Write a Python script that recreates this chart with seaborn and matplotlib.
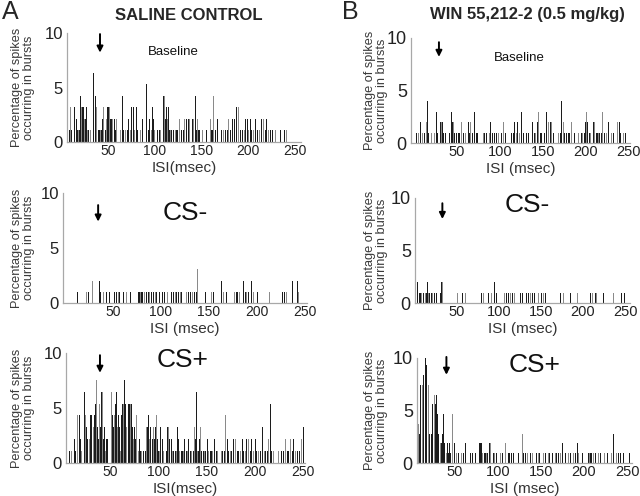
import matplotlib
matplotlib.use('Agg')
import matplotlib.pyplot as plt
import seaborn as sns

sns.set_style('white')
plt.rcParams['font.family'] = ['Liberation Sans', 'DejaVu Sans']

# (ISI ms, spikes in bin)
sal_base = [(9,1),(10,3),(11,1),(14,3),(15,1),(17,2),(18,1),(19,1),(20,1),(21,4),(22,3),(23,3),(24,3),(25,2),
            (26,2),(27,3),(28,1),(29,1),(31,1),(32,1),(35,6),(37,4),(38,3),(40,1),(41,1),(42,1),(43,1),(44,2),
            (45,3),(47,1),(48,1),(49,2),(50,3),(51,3),(52,3),(53,2),(54,2),(55,2),(57,2),(58,1),(59,2),(61,3),
            (62,2),(64,1),(66,4),(67,1),(69,1),(71,1),(72,2),(74,1),(75,3),(78,3),(79,1),(81,3),(82,1),(85,1),
            (87,2),(91,5),(92,1),(94,1),(95,2),(97,1),(98,3),(99,2),(100,1),(103,1),(105,1),(106,1),(108,2),
            (110,4),(111,4),(112,2),(113,3),(114,2),(115,3),(116,1),(117,1),(118,1),(120,1),(122,1),(124,1),
            (125,1),(127,2),(129,1),(131,1),(132,2),(134,2),(136,2),(137,2),(139,1),(141,2),(142,2),(144,4),
            (145,1),(146,2),(147,1),(148,1),(151,1),(154,1),(156,1),(160,2),(161,1),(162,1),(163,4),(165,1),
            (167,2),(169,1),(170,1),(172,1),(174,1),(176,1),(178,1),(179,2),(181,1),(183,2),(184,1),(186,2),
            (188,3),(190,3),(192,1),(194,1),(196,1),(197,2),(199,2),(201,1),(203,2),(204,1),(206,1),(208,2),
            (210,1),(212,1),(214,2),(216,3),(217,2),(219,1),(220,2),(222,1),(224,1),(226,1),(229,1),(235,1),
            (239,1),(241,1)]

sal_csm = [(13,1),(22,1),(24,1),(26,1),(29,2),(36,2),(37,1),(40,1),(43,1),(46,1),(51,1),(52,1),(54,1),(56,1),
           (57,1),(61,1),(64,1),(68,1),(75,1),(76,1),(77,1),(78,1),(79,1),(80,1),(81,1),(83,1),(85,1),(87,1),
           (88,1),(90,1),(92,1),(94,1),(95,1),(98,1),(101,1),(102,1),(104,1),(107,1),(111,1),(113,1),(115,1),
           (116,1),(118,1),(120,1),(121,1),(125,2),(127,1),(129,1),(131,1),(133,1),(135,1),(137,1),(138,3),
           (146,1),(149,1),(153,1),(155,1),(163,2),(165,1),(168,1),(174,2),(177,1),(179,1),(180,1),(182,1),
           (186,2),(188,1),(189,1),(191,1),(194,2),(196,1),(199,1),(201,1),(213,1),(227,1),(229,1),(231,1),
           (237,2),(242,2),(243,1)]

sal_csp = [(8,1),(10,1),(13,2),(14,1),(16,4),(18,4),(19,2),(20,1),(22,2),(24,6),(25,4),(26,3),(27,2),(29,2),
           (30,4),(31,4),(33,3),(34,4),(35,5),(36,7),(37,3),(38,2),(39,5),(40,3),(41,6),(42,6),(43,2),(44,3),
           (45,1),(46,2),(47,2),(49,4),(50,5),(51,6),(52,6),(53,4),(54,3),(55,4),(56,5),(57,6),(58,3),(59,4),
           (60,3),(61,1),(62,4),(63,5),(64,5),(65,7),(66,5),(67,3),(69,5),(70,5),(71,5),(72,5),(73,3),(74,2),
           (75,3),(76,2),(77,4),(78,2),(79,2),(80,1),(81,2),(82,1),(83,1),(85,1),(87,1),(88,3),(89,3),(90,4),
           (91,2),(92,3),(94,2),(95,3),(96,2),(97,3),(98,4),(99,2),(100,1),(101,1),(102,3),(104,2),(105,1),
           (106,2),(107,4),(108,2),(109,1),(110,3),(111,3),(112,2),(114,2),(115,1),(116,1),(118,1),(119,1),
           (120,3),(121,2),(122,1),(124,1),(125,1),(126,1),(127,2),(129,1),(130,1),(131,2),(133,1),(134,1),
           (136,2),(137,1),(138,3),(139,2),(140,6),(141,1),(142,1),(143,2),(144,3),(145,1),(147,1),(148,1),
           (149,1),(151,2),(152,1),(154,1),(155,1),(156,1),(158,2),(160,1),(161,1),(163,1),(165,2),(166,1),
           (167,1),(169,1),(170,4),(172,2),(173,1),(175,1),(176,1),(178,2),(180,2),(182,1),(183,1),(185,1),
           (187,2),(188,1),(190,1),(191,2),(193,1),(194,2),(196,1),(197,2),(199,1),(201,2),(202,1),(204,1),
           (206,1),(208,3),(210,1),(211,1),(213,1),(214,2),(216,5),(217,1),(219,1),(220,2),(221,1),(225,1),
           (228,1),(230,1),(232,2),(234,1),(235,1),(237,2),(239,1),(240,2),(242,1),(244,1),(246,1),(248,2),
           (249,1),(251,3)]

win_base = [(3,1),(5,1),(7,2),(8,2),(10,1),(12,1),(14,1),(15,2),(16,4),(17,1),(20,1),(21,1),(22,2),(24,1),
            (26,3),(27,1),(28,1),(29,2),(31,2),(32,2),(33,2),(34,1),(36,1),(37,1),(41,1),(43,1),(44,3),(45,2),
            (46,2),(47,1),(49,1),(50,1),(52,1),(53,1),(55,2),(57,1),(58,1),(60,1),(63,2),(65,1),(66,2),(68,1),
            (70,3),(71,1),(73,1),(74,1),(81,1),(82,1),(84,1),(88,1),(89,2),(91,1),(93,2),(94,1),(96,1),(98,1),
            (100,1),(102,1),(104,2),(106,1),(113,1),(114,2),(116,1),(117,2),(119,1),(120,2),(122,1),(123,1),
            (125,3),(127,1),(129,1),(131,1),(133,1),(136,1),(138,2),(140,1),(141,1),(143,2),(144,2),(145,3),
            (147,1),(148,1),(150,1),(152,1),(154,3),(156,2),(157,1),(159,2),(160,2),(162,1),(164,1),(168,1),
            (170,1),(172,4),(174,2),(175,1),(177,1),(178,1),(180,1),(181,1),(183,2),(185,1),(187,1),(191,1),
            (193,1),(195,1),(196,1),(198,1),(199,2),(201,3),(202,2),(204,1),(205,1),(207,1),(209,2),(210,2),
            (212,1),(213,1),(215,1),(216,1),(218,1),(219,3),(221,2),(222,1),(224,1),(226,2),(228,1),(230,1),
            (232,1),(236,1),(237,2),(239,2),(240,1),(244,1),(246,1)]

win_csm = [(3,2),(4,1),(6,1),(7,1),(8,1),(10,1),(11,1),(13,1),(14,1),(15,2),(17,1),(18,1),(20,1),(21,1),
           (24,1),(26,1),(29,1),(31,1),(32,2),(33,2),(35,1),(48,1),(51,1),(54,1),(57,1),(60,1),(67,1),(79,1),
           (82,1),(86,1),(88,1),(91,1),(95,2),(97,1),(107,1),(109,1),(112,1),(114,1),(116,1),(118,1),(119,1),
           (126,1),(128,1),(131,1),(133,1),(135,1),(138,1),(140,1),(142,1),(147,1),(149,1),(151,1),(153,1),
           (155,1),(173,1),(177,1),(181,1),(185,1),(193,1),(206,1),(209,1),(211,1),(213,1),(215,1),(216,1),
           (219,1),(224,1),(236,1),(246,1),(249,1)]

win_csp = [(7,4),(8,4),(9,3),(10,8),(12,8),(13,9),(14,10),(15,11),(16,11),(17,10),(19,8),(20,3),(21,3),(22,4),
           (23,3),(24,6),(26,7),(27,6),(28,7),(29,6),(30,5),(31,3),(33,2),(34,2),(35,3),(36,2),(37,5),(38,2),
           (40,1),(41,2),(42,1),(43,2),(44,2),(45,1),(47,5),(49,2),(50,1),(52,1),(54,1),(57,2),(58,1),(60,1),
           (62,2),(64,1),(68,1),(70,1),(72,1),(74,1),(78,2),(79,2),(80,2),(81,2),(82,1),(84,1),(85,1),(87,1),
           (88,1),(90,2),(91,2),(93,2),(95,1),(96,1),(98,1),(100,1),(103,1),(105,1),(107,1),(109,2),(112,1),
           (113,1),(115,1),(116,1),(118,1),(121,1),(122,1),(124,1),(128,3),(130,1),(132,1),(134,1),(136,1),
           (138,1),(140,1),(143,1),(145,1),(147,1),(148,1),(150,1),(153,1),(155,1),(157,1),(159,1),(160,1),
           (163,1),(167,1),(168,1),(170,1),(173,1),(175,2),(178,1),(182,1),(184,1),(186,1),(188,1),(190,1),
           (192,2),(194,1),(198,1),(205,1),(206,1),(208,1),(209,1),(211,1),(213,1),(215,1),(217,1),(219,1),
           (221,1),(224,1),(227,1),(229,1),(232,1),(234,3),(236,1),(238,1),(240,1),(242,1),(243,1),(246,1),
           (253,1)]

# percent of spikes represented by one spike in each record
pct_per_spike = {'sal_base': 1.06, 'sal_csm': 1.02, 'sal_csp': 1.08,
                 'win_base': 1.0, 'win_csm': 1.0, 'win_csp': 0.93}

yticks = [0, 5, 10]
xticks = [50, 100, 150, 200, 250]

W, H = 640, 496
fig = plt.figure(figsize=(6.4, 4.96), dpi=100)

# rect in pixels: left, right, top(y=10), bottom(y=0)
panels = [
    ('sal_base', sal_base, (67, 301, 33, 142), (6.4, 256.7), 'ISI(msec)', 'Baseline', (120, 8.3), 9.5, (41.7, 9.9, 8.2), 'A'),
    ('sal_csm', sal_csm, (63, 307, 193, 303), (-2.1, 252.1), 'ISI (msec)', 'CS-', (125, 8.2), 19, (34.5, 8.9, 7.4), 'A'),
    ('sal_csp', sal_csp, (66, 305, 353, 463), (4.4, 252.1), 'ISI(msec)', 'CS+', (125, 9.4), 19, (39.6, 9.8, 8.2), 'A'),
    ('win_base', win_base, (411, 630, 38, 143), (-3.5, 251.2), 'ISI (msec)', 'Baseline', (123, 8.1), 9.5, (29, 9.6, 8.2), 'B'),
    ('win_csm', win_csm, (415, 630, 198, 303), (0.5, 255.8), 'ISI (msec)', 'CS-', (133.5, 9.3), 19, (33, 9.5, 8.0), 'B'),
    ('win_csp', win_csp, (417, 632, 358, 463), (5.8, 255.8), 'ISI (msec)', 'CS+', (142, 9.3), 19, (40, 10.1, 8.4), 'B'),
]

dark, gray = '#1c1c1c', '#8a8a8a'

for key, data, (l, r, t, b), xlim, xlab, label, lpos, lsize, arr, col in panels:
    ax = fig.add_axes([l / W, 1 - b / H, (r - l) / W, (b - t) / H])
    isi = [d[0] for d in data]
    pct = [d[1] * pct_per_spike[key] for d in data]
    shade = ['g' if i % 3 == 1 else 'd' for i in range(len(isi))]
    sns.histplot(x=isi, weights=pct, hue=shade, discrete=True, shrink=0.95,
                 palette={'d': dark, 'g': gray}, alpha=1, linewidth=0,
                 legend=False, ax=ax)
    ax.set_xlim(*xlim)
    ax.set_ylim(0, 10)
    ax.set_xticks(xticks)
    ax.set_yticks(yticks)
    sns.despine(ax=ax)
    for s in ('left', 'bottom'):
        ax.spines[s].set_color('#a8a8a8')
        ax.spines[s].set_linewidth(0.9)
    ysz, xsz = (12, 10) if col == 'A' else (13, 10.5)
    ax.tick_params(axis='y', length=0, pad=3, labelsize=ysz, labelcolor='#222222')
    ax.tick_params(axis='x', length=0, pad=1.5, labelsize=xsz, labelcolor='#222222')
    ax.set_xlabel(xlab, fontsize=11, color='#333333', labelpad=2)
    ax.set_ylabel('Percentage of spikes\noccurring in bursts', fontsize=9.2,
                  color='#3a3a3a', linespacing=1.05)
    lab_right = 35 if col == 'A' else 388
    ax.yaxis.set_label_coords((lab_right - l) / (r - l), 0.5)
    ax.text(lpos[0], lpos[1], label, fontsize=lsize, ha='center', va='center', color='#111111')
    ax.annotate('', xy=(arr[0], arr[2]), xytext=(arr[0], arr[1]), annotation_clip=False,
                arrowprops=dict(arrowstyle='-|>', color='black', lw=1.4, mutation_scale=9,
                                shrinkA=0, shrinkB=0))

fig.text(10 / W, 1 - 12 / H, 'A', fontsize=18, ha='center', va='center')
fig.text(350 / W, 1 - 12 / H, 'B', fontsize=18, ha='center', va='center')
fig.text(189 / W, 1 - 15 / H, 'SALINE CONTROL', fontsize=12, fontweight='bold', ha='center', va='center')
fig.text(527 / W, 1 - 15 / H, 'WIN 55,212-2 (0.5 mg/kg)', fontsize=12, fontweight='bold', ha='center', va='center')

fig.savefig('out.png', dpi=100)
